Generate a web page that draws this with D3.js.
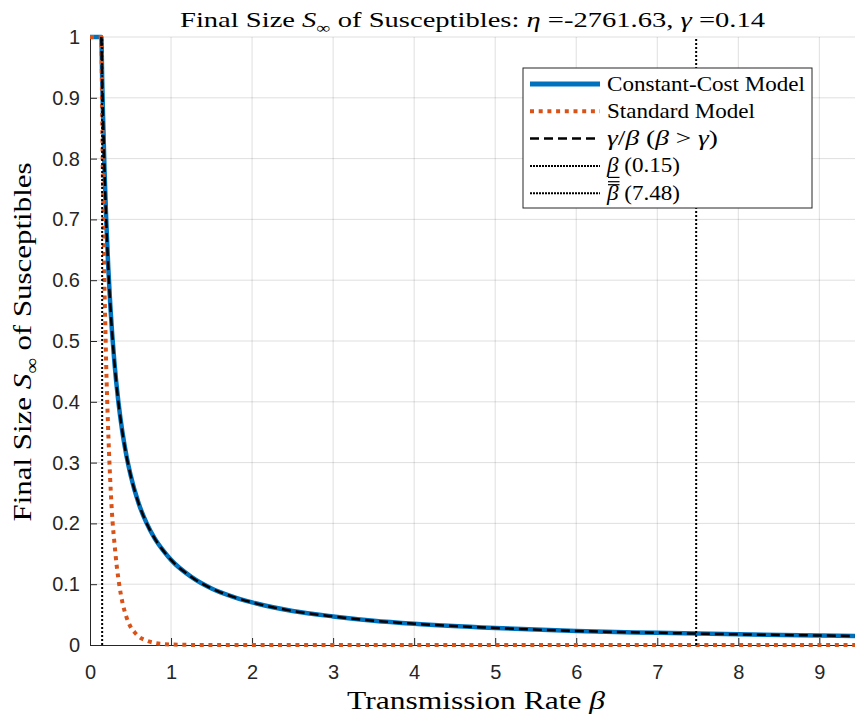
<!DOCTYPE html>
<html>
<head>
<meta charset="utf-8">
<script src="https://cdn.jsdelivr.net/npm/d3@7"></script>
<style>
  body { margin: 0; background: #fff; }
  svg { display: block; }
  .tick text { font-family: "Liberation Sans", Arial, sans-serif; font-size: 20px; fill: #262626; }
  .serif { font-family: "Liberation Serif", "Times New Roman", serif; fill: #000; }
</style>
</head>
<body>
<div id="chart"></div>
<script>
// values
var betaCC = [0, 0.14, 0.15, 0.16, 0.18, 0.2, 0.225, 0.25, 0.3, 0.35, 0.4, 0.45, 0.5, 0.6, 0.7, 0.8, 0.9, 1, 1.25, 1.5, 1.75, 2, 2.5, 3, 3.5, 4, 5, 6, 7, 8, 9, 9.44];
var sCC = [1, 1, 0.933, 0.875, 0.778, 0.70, 0.622, 0.56, 0.467, 0.40, 0.35, 0.311, 0.28, 0.233, 0.20, 0.175, 0.156, 0.14, 0.112, 0.093, 0.08, 0.07, 0.056, 0.047, 0.04, 0.035, 0.028, 0.023, 0.02, 0.0175, 0.0156, 0.0148];

var betaRatio = [0.14, 0.15, 0.16, 0.18, 0.2, 0.225, 0.25, 0.3, 0.35, 0.4, 0.45, 0.5, 0.6, 0.7, 0.8, 0.9, 1, 1.25, 1.5, 1.75, 2, 2.5, 3, 3.5, 4, 5, 6, 7, 8, 9, 9.44];
var sRatio = [1, 0.933, 0.875, 0.778, 0.70, 0.622, 0.56, 0.467, 0.40, 0.35, 0.311, 0.28, 0.233, 0.20, 0.175, 0.156, 0.14, 0.112, 0.093, 0.08, 0.07, 0.056, 0.047, 0.04, 0.035, 0.028, 0.023, 0.02, 0.0175, 0.0156, 0.0148];

var betaStd = [0, 0.14, 0.15, 0.16, 0.17, 0.18, 0.19, 0.2, 0.22, 0.25, 0.28, 0.3, 0.33, 0.36, 0.4, 0.45, 0.5, 0.55, 0.6, 0.7, 0.8, 0.9, 1, 1.2, 1.5, 2, 3, 4, 5, 6, 7, 8, 9, 9.44];
var sStd = [1, 1, 0.87, 0.76, 0.66, 0.58, 0.52, 0.46, 0.37, 0.27, 0.2, 0.17, 0.13, 0.1, 0.07, 0.046, 0.03, 0.021, 0.014, 0.007, 0.0033, 0.0016, 0.0008, 0.0002, 0, 0, 0, 0, 0, 0, 0, 0, 0, 0];

var betaLow = 0.15;
var betaHigh = 7.48;

var xTicks = [0, 1, 2, 3, 4, 5, 6, 7, 8, 9];
var yTicks = [0, 0.1, 0.2, 0.3, 0.4, 0.5, 0.6, 0.7, 0.8, 0.9, 1];

var W = 855, H = 717;
var margin = {top: 37, right: 0, bottom: 72, left: 90};
var width = W - margin.left - margin.right;
var height = H - margin.top - margin.bottom;

var BLUE = '#0072BD', ORANGE = '#D95319', AX = '#262626';

var svg = d3.select('#chart').append('svg')
	.attr('width', W)
	.attr('height', H);

var g = svg.append('g')
	.attr('transform', 'translate(' + margin.left + ',' + margin.top + ')');

var x = d3.scaleLinear().domain([0, 9.44]).range([0, width]);
var y = d3.scaleLinear().domain([0, 1]).range([height, 0]);

// grid
g.append('g').selectAll('line').data(xTicks.slice(1)).enter().append('line')
	.attr('x1', function(d) { return x(d); }).attr('x2', function(d) { return x(d); })
	.attr('y1', 0).attr('y2', height)
	.attr('stroke', AX).attr('stroke-opacity', 0.15);
g.append('g').selectAll('line').data(yTicks.slice(1)).enter().append('line')
	.attr('x1', 0).attr('x2', width)
	.attr('y1', function(d) { return y(d); }).attr('y2', function(d) { return y(d); })
	.attr('stroke', AX).attr('stroke-opacity', 0.15);

// axes, ticks pointing inward
var xAxis = d3.axisBottom(x).tickValues(xTicks).tickFormat(d3.format('d'))
	.tickSizeInner(-7).tickSizeOuter(0).tickPadding(20);
var yAxis = d3.axisLeft(y).tickValues(yTicks).tickFormat(function(d) { return d === 0 || d === 1 ? d : d3.format('.1f')(d); })
	.tickSizeInner(-7).tickSizeOuter(0).tickPadding(10);

var gx = g.append('g').attr('transform', 'translate(0,' + height + ')').call(xAxis);
var gy = g.append('g').call(yAxis);
[gx, gy].forEach(function(a) {
	a.select('.domain').attr('stroke', AX);
	a.selectAll('.tick line').attr('stroke', AX);
});

// curves
function pts(xs, ys) { return xs.map(function(v, i) { return [v, ys[i]]; }); }
var line = d3.line()
	.x(function(d) { return x(d[0]); })
	.y(function(d) { return y(d[1]); })
	.curve(d3.curveMonotoneX);

g.append('path').datum(pts(betaCC, sCC))
	.attr('d', line).attr('fill', 'none')
	.attr('stroke', BLUE).attr('stroke-width', 4.5);

g.append('path').datum(pts(betaStd, sStd))
	.attr('d', line).attr('fill', 'none')
	.attr('stroke', ORANGE).attr('stroke-width', 4).attr('stroke-dasharray', '4 4.7');

g.append('path').datum(pts(betaRatio, sRatio))
	.attr('d', line).attr('fill', 'none')
	.attr('stroke', '#000').attr('stroke-width', 2.5).attr('stroke-dasharray', '9 5');

g.selectAll('.vline').data([betaLow, betaHigh]).enter().append('line')
	.attr('class', 'vline')
	.attr('x1', function(d) { return x(d); }).attr('x2', function(d) { return x(d); })
	.attr('y1', y(0)).attr('y2', y(1))
	.attr('stroke', '#000').attr('stroke-width', 2).attr('stroke-dasharray', '2 2');

// rich text helper: segments [text, flags]; 'i' italic, 'sub' subscript
function rich(sel, segs, size, len) {
	var back = 0;
	segs.forEach(function(s) {
		var t = sel.append('tspan').text(s[0]);
		var f = s[1] || '';
		if (f.indexOf('i') >= 0) t.attr('font-style', 'italic');
		if (f.indexOf('sub') >= 0) {
			t.attr('font-size', size * 0.7).attr('dy', size * 0.28);
			back = -size * 0.28;
		} else if (back) {
			t.attr('dy', back);
			back = 0;
		}
	});
	if (len) sel.attr('textLength', len).attr('lengthAdjust', 'spacingAndGlyphs');
	return sel;
}

// title
rich(svg.append('text').attr('class', 'serif')
	.attr('x', margin.left + width / 2).attr('y', 26.5)
	.attr('text-anchor', 'middle').attr('font-size', 22),
	[['Final Size '], ['S', 'i'], ['\u221E', 'sub'], [' of Susceptibles: '], ['\u03B7', 'i'],
	 [' =-2761.63, '], ['\u03B3', 'i'], [' =0.14']], 22, 585);

// x label
rich(svg.append('text').attr('class', 'serif')
	.attr('x', 476).attr('y', 709)
	.attr('text-anchor', 'middle').attr('font-size', 26),
	[['Transmission Rate '], ['\u03B2', 'i']], 26, 258);

// y label
rich(svg.append('text').attr('class', 'serif')
	.attr('transform', 'translate(31,342) rotate(-90)')
	.attr('text-anchor', 'middle').attr('font-size', 26),
	[['Final Size '], ['S', 'i'], ['\u221E', 'sub'], [' of Susceptibles']], 26, 359);

// legend
var lg = svg.append('g').attr('transform', 'translate(523,68)');
lg.append('rect').attr('width', 289).attr('height', 140)
	.attr('fill', '#fff').attr('stroke', AX).attr('stroke-width', 1);

var legendItems = [
	{stroke: BLUE, w: 5, dash: null, len: 198, segs: [['Constant-Cost Model']]},
	{stroke: ORANGE, w: 4, dash: '4 4.7', len: 148, segs: [['Standard Model']]},
	{stroke: '#000', w: 2.5, dash: '9 5', len: 111, segs: [['\u03B3', 'i'], ['/'], ['\u03B2', 'i'], [' ('], ['\u03B2', 'i'], [' > '], ['\u03B3', 'i'], [')']]},
	{stroke: '#000', w: 2, dash: '2 1', len: 73, segs: [['\u03B2', 'i'], [' (0.15)']], mark: 'under'},
	{stroke: '#000', w: 2, dash: '2 1', len: 73, segs: [['\u03B2', 'i'], [' (7.48)']], mark: 'over2'}
];

legendItems.forEach(function(it, i) {
	var cy = 16 + i * 27.3;
	lg.append('line').attr('x1', 7).attr('x2', 77).attr('y1', cy).attr('y2', cy)
		.attr('stroke', it.stroke).attr('stroke-width', it.w)
		.attr('stroke-dasharray', it.dash);
	var t = rich(lg.append('text').attr('class', 'serif')
		.attr('x', 84).attr('y', cy + 6.5).attr('font-size', 21), it.segs, 21, it.len);
	if (it.mark) {
		var n = t.node();
		var x0 = n.getStartPositionOfChar(0).x + 1, x1 = n.getEndPositionOfChar(0).x + 1;
		if (it.mark === 'under') {
			lg.append('line').attr('x1', x0).attr('x2', x1).attr('y1', cy + 11.5).attr('y2', cy + 11.5)
				.attr('stroke', '#000').attr('stroke-width', 1.2);
		} else {
			[-11.5, -8.5].forEach(function(o) {
				lg.append('line').attr('x1', x0).attr('x2', x1).attr('y1', cy + o).attr('y2', cy + o)
					.attr('stroke', '#000').attr('stroke-width', 1.2);
			});
		}
	}
});
</script>
</body>
</html>
